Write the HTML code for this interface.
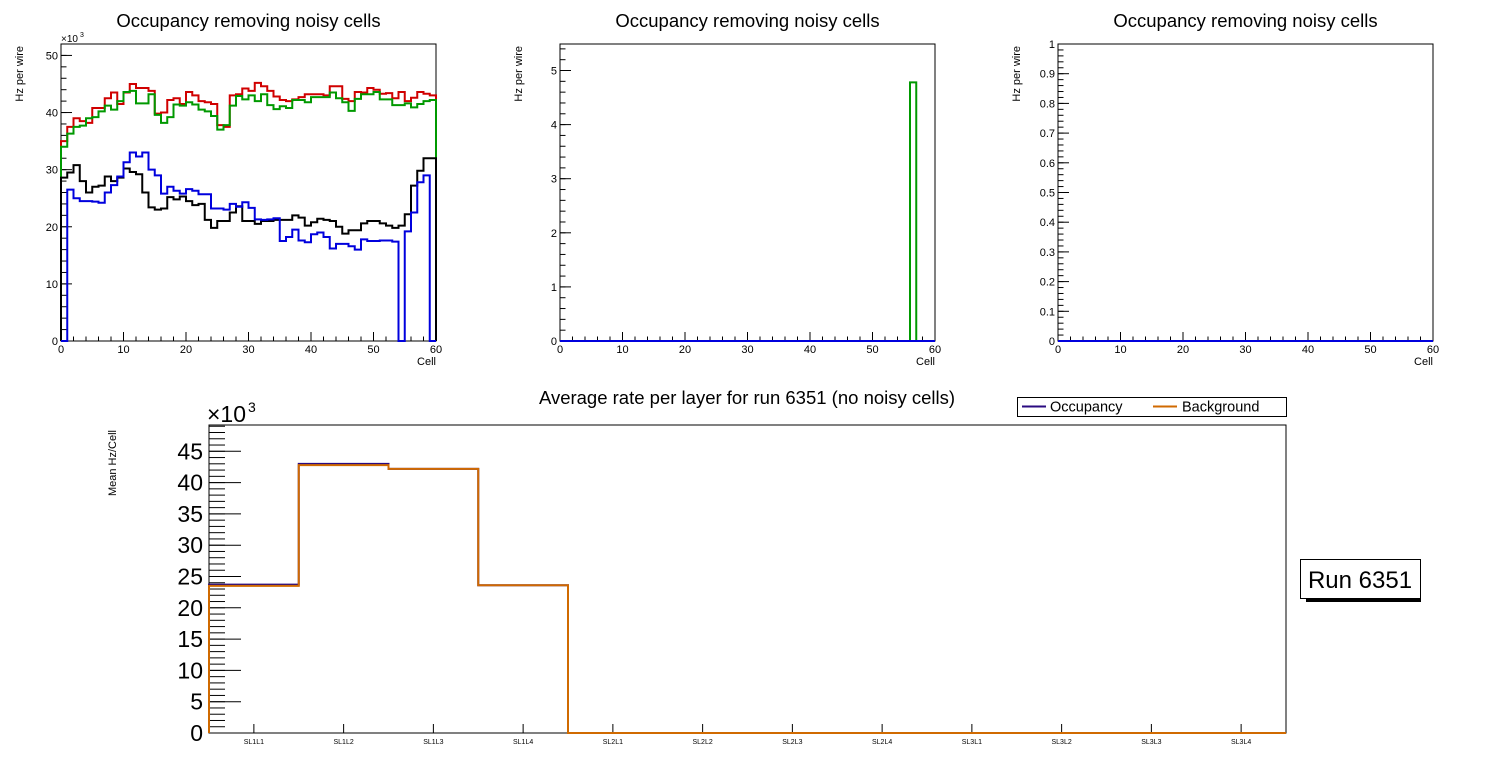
<!DOCTYPE html>
<html><head><meta charset="utf-8"><style>
html,body{margin:0;padding:0;background:#fff;}
svg{display:block;font-family:"Liberation Sans",Arial,sans-serif;}
</style></head><body>
<svg id="c" width="1496" height="772" viewBox="0 0 1496 772"></svg>
<script>
const cells = 60;
const p1Red = [35,37.5,39,38.5,38.2,40.8,40.8,42.5,43.5,41.5,43.5,45,44.3,44.3,43.8,39.8,40,42.2,42.5,41.5,43.6,43,42,41.8,41.5,37.8,37.5,43,43.2,44.2,43.8,45.2,44.6,43.8,42.8,42.2,42,42.3,42.7,43.2,43.2,43.2,43,44.6,44.6,42.4,42,43.6,43.5,44.3,44,43.3,43.4,42.5,43.6,42,42.6,43.6,43.3,43];
const p1Green = [34,36.3,37.5,37.7,39,39.2,40.2,41.2,40.5,42,43.6,43.8,41.6,41.6,43.2,39.6,38.2,39.2,41.4,41.2,41.8,41.4,40.5,40.2,39.4,37,37.8,41.2,42.9,42.3,43,42,43.2,41.3,40.6,41.1,40.8,42.2,42.2,41.8,42.7,42.7,42.7,43.5,42.5,41.8,40.3,42.4,43.2,43.2,43.6,42.3,42.3,41.3,41.3,41.6,40.9,41.5,42,42.2];
const p1Black = [28.6,29.5,30.8,28,26,27,27.2,28.8,28,28.6,30.2,29.6,29.2,26,23.4,23,23.2,25.2,24.8,25.3,24.5,23.8,24,21.2,19.8,21,21,22.5,23.6,21,21,20.5,21,21,21.2,21.2,21.2,22,21.6,20.2,20.8,21.4,21.2,21,20,18.8,19.4,19.4,20.6,21,21,20.6,20.2,19.8,20.2,22.2,27.2,29.8,32,32];
const p1Blue = [0,26.5,25,24.5,24.5,24.4,24.2,26,27.3,28.8,31.3,33,32.3,33,30,29,25.8,27,26.3,25.8,26.6,26.3,25.7,25.7,23.2,23.2,23,24,23.5,24.3,23.3,21.3,21.2,21.3,21.5,17.5,18.2,19.5,17.6,17.3,18.7,19,18.2,16.2,17,17,16.6,16,17.8,17.5,17.5,17.6,17.6,17.4,0,19.2,22.5,27.8,29,0];
const p2Green = {bin:56, value:4.78};
const layers = ["SL1L1","SL1L2","SL1L3","SL1L4","SL2L1","SL2L2","SL2L3","SL2L4","SL3L1","SL3L2","SL3L3","SL3L4"];
const occupancy = [23.7,43.0,42.2,23.6,0,0,0,0,0,0,0,0];
const background = [23.5,42.8,42.2,23.6,0,0,0,0,0,0,0,0];
const p1YTicks = [0,10,20,30,40,50];
const p2YTicks = [0,1,2,3,4,5];
const p3YTicks = [0,0.1,0.2,0.3,0.4,0.5,0.6,0.7,0.8,0.9,1];
const cellTicks = [0,10,20,30,40,50,60];
const botYTicks = [0,5,10,15,20,25,30,35,40,45];

const svg = document.getElementById('c');
const NS = 'http://www.w3.org/2000/svg';
function mk(tag, attrs, parent){const e=document.createElementNS(NS,tag);for(const k in attrs)e.setAttribute(k,attrs[k]);(parent||svg).appendChild(e);return e;}
function txt(s, attrs, parent){const e=mk('text',attrs,parent);e.textContent=s;return e;}

function stepPath(vals, xs, ys, x0, x1){
  let d='M'+xs(x0)+','+ys(0);
  vals.forEach((v,i)=>{d+=' L'+xs(i)+','+ys(v)+' L'+xs(i+1)+','+ys(v);});
  d+=' L'+xs(x1)+','+ys(0);
  return d;
}

function smallPanel(L, R, T, B, ymax, yticks, minorStep, labelFmt, name, expo){
  const g = mk('g',{});
  
  
  const xs = v => L + (R-L)*v/cells;
  const ys = v => B - (B-T)*v/ymax;
  const t = txt('Occupancy removing noisy cells',{x:(L+R)/2,y:27,'font-size':18.5,'text-anchor':'middle'},g);
  
  
  mk('rect',{x:L,y:T,width:R-L,height:B-T,fill:'none',stroke:'#000','stroke-width':1},g);
  for(let v=0; v<=ymax+1e-9; v+=minorStep){ mk('line',{x1:L,x2:L+5.5,y1:ys(v),y2:ys(v),stroke:'#000'},g); }
  yticks.forEach(v=>{
    mk('line',{x1:L,x2:L+11,y1:ys(v),y2:ys(v),stroke:'#000'},g);
    const l = txt(labelFmt(v),{x:L-3,y:ys(v)+4,'font-size':11,'text-anchor':'end'},g);
    
    
  });
  for(let v=0; v<=cells; v+=2){ mk('line',{x1:xs(v),x2:xs(v),y1:B,y2:B-(v%10===0?9:4.5),stroke:'#000'},g); }
  cellTicks.forEach(v=>{
    const l = txt(String(v),{x:xs(v),y:B+12,'font-size':11,'text-anchor':'middle'},g);
    
    
  });
  const xt = txt('Cell',{x:R,y:B+24,'font-size':11,'text-anchor':'end'},g);
  
  
  const yt = txt('Hz per wire',{x:0,y:0,'font-size':11,'text-anchor':'end',transform:'translate('+(L-38)+','+(T+2)+') rotate(-90)'},g);
  
  
  if(expo){
    const e = txt('×10',{x:L,y:T-2,'font-size':10},g);
    
    
    txt('3',{x:L+19,y:T-7,'font-size':7},g);
  }
  return {g,xs,ys};
}

const P1 = smallPanel(61,436,44,341,52.0,p1YTicks,2,v=>String(v),'occupancy-panel-1',true);
[[p1Red,'#d00000','series-red'],[p1Green,'#009900','series-green'],[p1Black,'#000000','series-black'],[p1Blue,'#0000dd','series-blue']].forEach(([vals,col,nm])=>{
  const p = mk('path',{d:stepPath(vals,P1.xs,P1.ys,0,cells),fill:'none',stroke:col,'stroke-width':2},P1.g);
  
  
});

const P2 = smallPanel(560,935,44,341,5.49,p2YTicks,0.2,v=>String(v),'occupancy-panel-2',false);
{
  const vals = new Array(cells).fill(0); vals[p2Green.bin]=p2Green.value;
  const p = mk('path',{d:stepPath(vals,P2.xs,P2.ys,0,cells),fill:'none',stroke:'#009900','stroke-width':2},P2.g);
  
  
  const b = mk('line',{x1:P2.xs(0),x2:P2.xs(cells),y1:P2.ys(0),y2:P2.ys(0),stroke:'#0000dd','stroke-width':2},P2.g);
  
  
}

const P3 = smallPanel(1058,1433,44,341,1.0,p3YTicks,0.02,v=>v===0||v===1?String(v):v.toFixed(1),'occupancy-panel-3',false);
{
  const b = mk('line',{x1:P3.xs(0),x2:P3.xs(cells),y1:P3.ys(0),y2:P3.ys(0),stroke:'#0000dd','stroke-width':2},P3.g);
  
  
}

{
  const L=209,R=1286,T=425,B=733,ymax=49.2;
  const g = mk('g',{});
  
  
  const n = layers.length;
  const xs = i => L + (R-L)*i/n;
  const ys = v => B - (B-T)*v/ymax;
  const t = txt('Average rate per layer for run 6351 (no noisy cells)',{x:747,y:404,'font-size':18.5,'text-anchor':'middle'},g);
  
  
  mk('rect',{x:L,y:T,width:R-L,height:B-T,fill:'none',stroke:'#000'},g);
  for(let v=0; v<=ymax; v+=1){ mk('line',{x1:L,x2:L+16,y1:ys(v),y2:ys(v),stroke:'#000'},g); }
  botYTicks.forEach(v=>{
    mk('line',{x1:L,x2:L+32,y1:ys(v),y2:ys(v),stroke:'#000'},g);
    const l = txt(String(v),{x:L-6,y:ys(v)+8,'font-size':23,'text-anchor':'end'},g);
    
    
  });
  const e = txt('×10',{x:L-2,y:T-3,'font-size':23},g);
  
  
  txt('3',{x:L+39,y:T-13,'font-size':14},g);
  layers.forEach((s,i)=>{
    const cx = xs(i+0.5);
    mk('line',{x1:cx,x2:cx,y1:B,y2:B-9,stroke:'#000'},g);
    const l = txt(s,{x:cx,y:B+11,'font-size':7,'text-anchor':'middle'},g);
    
    
  });
  const yt = txt('Mean Hz/Cell',{x:0,y:0,'font-size':11,'text-anchor':'end',transform:'translate(116,'+(T+5)+') rotate(-90)'},g);
  
  
  const xsi = v => xs(v);
  const po = mk('path',{d:stepPath(occupancy,xsi,ys,0,n),fill:'none',stroke:'#2a0a80','stroke-width':2},g);
  
  
  const pb = mk('path',{d:stepPath(background,xsi,ys,0,n),fill:'none',stroke:'#d06a00','stroke-width':2},g);
  
  

  const lg = mk('g',{});
  
  
  mk('rect',{x:1017.5,y:397.5,width:269,height:19,fill:'#fff',stroke:'#000'},lg);
  mk('line',{x1:1022,x2:1046,y1:406.5,y2:406.5,stroke:'#2a0a80','stroke-width':2},lg);
  const l1 = txt('Occupancy',{x:1050,y:411.5,'font-size':14.5},lg);
  
  
  mk('line',{x1:1153,x2:1177,y1:406.5,y2:406.5,stroke:'#d06a00','stroke-width':2},lg);
  const l2 = txt('Background',{x:1182,y:411.5,'font-size':14.5},lg);
  
  

  const rb = mk('g',{});
  
  
  mk('rect',{x:1306,y:564,width:115,height:38,fill:'#000'},rb);
  mk('rect',{x:1300.5,y:559.5,width:120,height:39,fill:'#fff',stroke:'#000'},rb);
  txt('Run 6351',{x:1360,y:588,'font-size':24,'text-anchor':'middle'},rb);
}
</script>
</body></html>
